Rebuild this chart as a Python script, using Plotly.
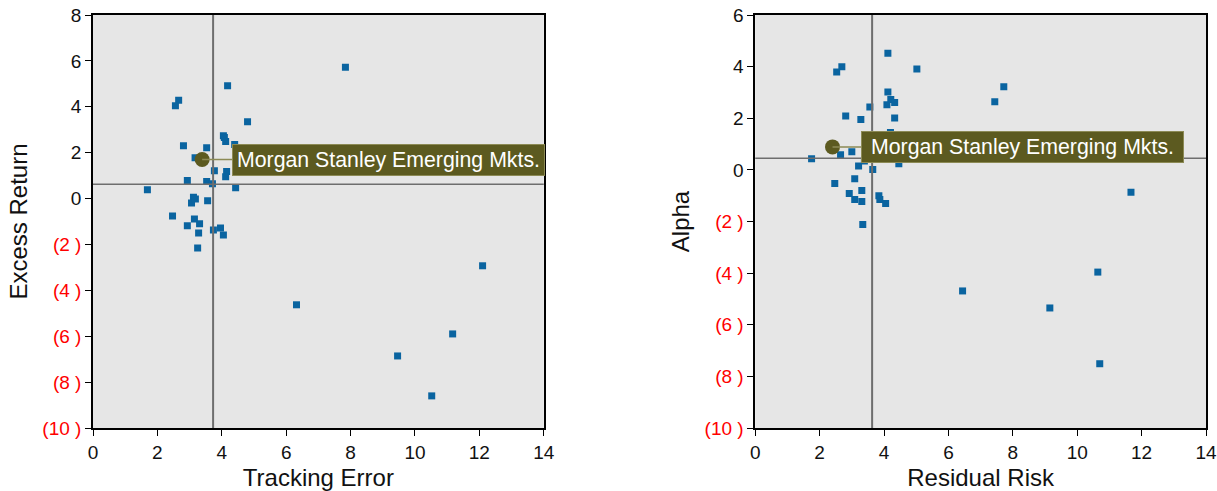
import plotly.graph_objects as go

# ---------------- data ----------------
te_x = [4.18, 2.66, 2.56, 4.80, 4.05, 4.12, 4.40, 2.81, 3.53, 3.17, 3.77, 4.15, 4.12,
        2.93, 3.53, 3.71, 4.43, 1.69, 3.12, 3.06, 3.18, 3.56, 2.47, 3.15, 2.93, 3.31,
        3.28, 3.74, 3.96, 4.05, 3.25, 7.84, 6.32, 12.10, 11.17, 9.46, 10.52, 4.08]
te_y = [4.92, 4.28, 4.05, 3.35, 2.74, 2.49, 2.36, 2.30, 2.21, 1.78, 1.21, 1.18, 0.95,
        0.79, 0.74, 0.64, 0.47, 0.38, 0.06, -0.19, -0.02, -0.10, -0.76, -0.89, -1.19, -1.10,
        -1.50, -1.37, -1.28, -1.59, -2.15, 5.72, -4.63, -2.93, -5.90, -6.86, -8.60, 2.66]

rr_x = [4.12, 2.69, 2.53, 5.02, 4.12, 4.21, 4.33, 4.09, 3.56, 2.81, 3.28, 4.33, 4.20,
        1.75, 2.65, 3.00, 3.39, 4.46, 3.21, 3.65, 3.09, 2.47, 2.92, 3.31, 3.09, 3.31,
        3.84, 3.87, 4.05, 3.34, 7.72, 7.44, 11.67, 6.44, 10.64, 9.15, 10.70]
rr_y = [4.52, 4.00, 3.79, 3.91, 3.02, 2.73, 2.61, 2.52, 2.44, 2.09, 1.95, 2.01, 1.45,
        0.43, 0.59, 0.70, 0.34, 0.24, 0.15, 0.01, -0.34, -0.53, -0.92, -0.80, -1.15, -1.23,
        -1.00, -1.15, -1.30, -2.12, 3.22, 2.64, -0.87, -4.69, -3.96, -5.35, -7.51]

ms_name = "Morgan Stanley Emerging Mkts."
ms_left = (3.39, 1.70)
ms_right = (2.40, 0.89)

cross_left = (3.73, 0.62)
cross_right = (3.63, 0.45)

x_ticks = [0, 2, 4, 6, 8, 10, 12, 14]
y_ticks_left = [8, 6, 4, 2, 0, -2, -4, -6, -8, -10]
y_ticks_right = [6, 4, 2, 0, -2, -4, -6, -8, -10]


def fmt(v):
    if v < 0:
        return "<span style='color:#FF0000'>(%d )</span>" % (-v)
    return str(v)


# ---------------- style ----------------
FONT = "Liberation Sans, Arial, sans-serif"
SQ_COLOR = "#0A64A0"
OLIVE = "#5C5A20"
GRID_BG = "#E6E6E6"
CROSS = "#6E6E6E"
TITLE_FONT = dict(family=FONT, size=24, color="#111111")

fig = go.Figure()

fig.add_trace(go.Scatter(x=te_x, y=te_y, mode="markers", xaxis="x", yaxis="y",
                         marker=dict(symbol="square", size=7, color=SQ_COLOR),
                         showlegend=False, hoverinfo="skip"))
fig.add_trace(go.Scatter(x=rr_x, y=rr_y, mode="markers", xaxis="x2", yaxis="y2",
                         marker=dict(symbol="square", size=7, color=SQ_COLOR),
                         showlegend=False, hoverinfo="skip"))

# crosshair lines
for xr, yr, (cx, cy) in [("x", "y", cross_left), ("x2", "y2", cross_right)]:
    fig.add_shape(type="line", xref=xr, yref=yr + " domain", x0=cx, x1=cx, y0=0, y1=1,
                  line=dict(color=CROSS, width=2), layer="above")
    fig.add_shape(type="line", xref=xr + " domain", yref=yr, x0=0, x1=1, y0=cy, y1=cy,
                  line=dict(color=CROSS, width=1.5), layer="above")

# highlighted points
fig.add_trace(go.Scatter(x=[ms_left[0]], y=[ms_left[1]], mode="markers", xaxis="x", yaxis="y",
                         marker=dict(symbol="circle", size=15, color=OLIVE),
                         showlegend=False, hoverinfo="skip"))
fig.add_trace(go.Scatter(x=[ms_right[0]], y=[ms_right[1]], mode="markers", xaxis="x2", yaxis="y2",
                         marker=dict(symbol="circle", size=15, color=OLIVE),
                         showlegend=False, hoverinfo="skip"))

for xr, yr, (px, py), ax, w in [("x", "y", ms_left, 186, 305), ("x2", "y2", ms_right, 190, 315)]:
    fig.add_annotation(x=px, y=py, xref=xr, yref=yr, text=ms_name, showarrow=True,
                       ax=ax, ay=0, arrowhead=0, arrowwidth=1.5, arrowcolor="#8C8A55",
                       width=w, align="center",
                       bgcolor=OLIVE, bordercolor="#8C8A55", borderwidth=1, borderpad=3,
                       font=dict(family=FONT, size=21.3, color="white"))

axis_common = dict(showgrid=False, zeroline=False, showline=True, linecolor="black",
                   linewidth=1.5, mirror=True, ticks="outside", ticklen=6, tickcolor="black",
                   automargin=False, ticklabeloverflow="allow",
                   tickfont=dict(family=FONT, size=19, color="#111111"))

fig.update_layout(
    width=1217, height=491,
    margin=dict(l=93, r=11, t=15, b=63, autoexpand=False),
    paper_bgcolor="white", plot_bgcolor=GRID_BG,
    font=dict(family=FONT),
    xaxis=dict(domain=[0, 0.405], range=[0, 14], tickvals=x_ticks,
               ticktext=[str(v) for v in x_ticks],
               title=dict(text="Tracking Error", font=TITLE_FONT, standoff=12),
               **axis_common),
    yaxis=dict(domain=[0, 1], range=[-10, 8], tickvals=y_ticks_left,
               ticktext=[fmt(v) for v in y_ticks_left],
               title=dict(text="Excess Return", font=TITLE_FONT, standoff=8),
               **axis_common),
    xaxis2=dict(domain=[0.595, 1], range=[0, 14], tickvals=x_ticks, anchor="y2",
                ticktext=[str(v) for v in x_ticks],
                title=dict(text="Residual Risk", font=TITLE_FONT, standoff=12),
                **axis_common),
    yaxis2=dict(domain=[0, 1], range=[-10, 6], tickvals=y_ticks_right, anchor="x2",
                ticktext=[fmt(v) for v in y_ticks_right],
                title=dict(text="Alpha", font=TITLE_FONT, standoff=8),
                **axis_common),
)

fig.write_html("out.html", config={"displayModeBar": False})

# remove default page margins so the figure fills the window exactly
with open("out.html", "r", encoding="utf-8") as f:
    html = f.read()
html = html.replace("<head>",
                    "<head><style>html,body{margin:0;padding:0;overflow:hidden;}</style>", 1)
with open("out.html", "w", encoding="utf-8") as f:
    f.write(html)
